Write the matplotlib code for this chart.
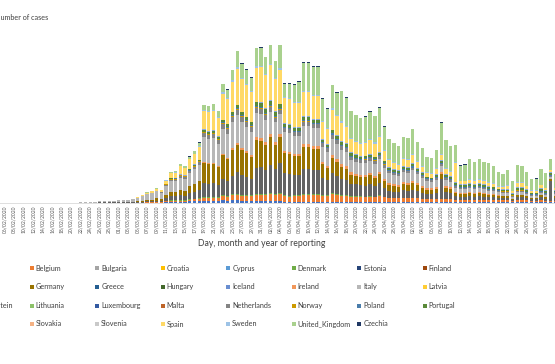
import matplotlib
matplotlib.use("Agg")
import matplotlib.pyplot as plt
import pandas as pd
from matplotlib.patches import Rectangle

plt.rcParams["font.family"] = ["Lato", "DejaVu Sans"]

# daily cases by reporting day, thousands (day 0 = 06/02/2020)
dates = pd.date_range("2020-02-06", periods=117).strftime("%d/%m/%Y")

italy = [0] * 16 + [0.02, 0.06, 0.07, 0.1,
    0.3, 0.2, 0.3, 0.38, 0.55, 0.45, 0.45, 0.7, 0.88, 1.25, 1.5, 1.75, 1.75, 1.5,
    2.25, 2.75, 2.75, 3, 3, 3.25, 3.75, 4,
    6.25, 6, 6.25, 5.5, 6.25, 6, 6.5, 7, 6.5, 6, 5.75, 6, 6, 5.5, 5.5, 5, 5,
    4.75, 4.75, 4.5, 4.5, 4.5, 4.5, 4.5, 4.5, 3.75, 3.5, 4, 3.75,
    3.5, 3.5, 3, 3, 3, 3, 3, 3, 3.25, 2.75, 2.5, 2.25, 2.25, 2.5, 2.5, 2.75, 2.25, 2, 1.75, 1.5,
    1.75, 1.5, 1.5, 1.25, 1, 1, 1, 1, 1, 1, 1, 0.75, 0.75, 0.75, 0.75, 0.75, 0.5, 0.75, 0.75, 0.5,
    0.5, 0.5, 0.5, 0.5, 0.5, 0.5]
spain = [0] * 20 + [
    0, 0, 0, 0, 0.03, 0.03, 0.03, 0.08, 0.15, 0.2, 0.38, 0.38, 0.63, 0.5,
    0.75, 1.25, 1.25, 2, 1.75, 2.5, 2.5, 3.25,
    4.5, 4.75, 4.75, 4.5, 6.5, 6.25, 7.5, 9, 8.25, 8, 7.5, 8.5, 8.75, 8.25, 8.75, 8, 8.5,
    6.25, 6.25, 6, 6, 6, 6, 5.75, 5.75, 4.25, 3.75, 5, 4.75,
    4.5, 4, 3.25, 3, 3, 3.25, 3.5, 3.25, 3.75, 2.5, 1.75, 1.5, 1.25, 1.75, 1.75, 2, 1.5, 1.25, 1, 1,
    1.25, 1.25, 1.25, 1, 4.75, 0.75, 0.75, 0.75, 0.75, 0.75, 0.75, 0.75, 0.75, 0.5, 0.5, 0.75, 0.5, 1, 1, 0.75,
    0.5, 0.5, 0.75, 0.5, 0.5, 0.5]
germany = [0] * 20 + [
    0.03, 0.03, 0.03, 0.05, 0.08, 0.05, 0.05, 0.1, 0.15, 0.2, 0.3, 0.35, 0.63, 0.5,
    0.75, 1, 1, 1.25, 1.25, 1.75, 2, 2.25,
    5, 5, 4.75, 4.5, 6, 5.5, 6.5, 6.75, 6.25, 6, 5.5, 7, 6.5, 6.25, 7, 6, 6.5,
    5, 5, 4.75, 4.75, 5.5, 5.5, 5.25, 5.25, 3.5, 3, 3.75, 3.5,
    3, 2.75, 2.25, 2, 2, 2.25, 2.25, 2, 2.25, 1.75, 1.5, 1.5, 1.25, 1.5, 1.5, 1.75, 1.5, 1.25, 1, 1,
    1, 1.25, 1, 1, 0.75, 0.75, 0.75, 0.75, 0.75, 0.75, 0.75, 0.5, 0.5, 0.5, 0.5, 0.5, 0.25, 0.5, 0.5, 0.5,
    0.25, 0.25, 0.5, 0.5, 0.5, 0.5]
france = [0] * 20 + [
    0.03, 0.03, 0.03, 0.05, 0.05, 0.05, 0.05, 0.08, 0.13, 0.15, 0.25, 0.3, 0.38, 0.38,
    0.75, 1, 1, 1.25, 1, 1.5, 1.75, 2,
    3.5, 3.25, 3.5, 3, 4, 3.75, 4.5, 5.5, 5, 4.5, 4, 6.5, 6.75, 6, 7, 6.25, 7.5,
    5.5, 5.5, 5, 5, 6.25, 6.25, 6, 6, 4.25, 3.75, 5, 4.5,
    4, 3.75, 3, 3, 2.75, 2.75, 3, 2.75, 3, 2.25, 1.75, 1.5, 1.5, 2, 1.75, 2, 1.75, 1.5, 1.25, 1.25,
    1.5, 5, 1.75, 1.5, 1, 0.75, 0.75, 1, 0.75, 1, 0.75, 0.75, 0.75, 0.5, 0.5, 0.5, 0.25, 0.75, 0.75, 0.5,
    0.5, 0.5, 0.75, 0.5, 5, 0.75]
uk = [0] * 20 + [
    0, 0, 0, 0, 0, 0, 0, 0, 0, 0.03, 0.03, 0.05, 0.05, 0.08,
    0.13, 0.25, 0.25, 0.38, 0.38, 0.5, 0.63, 0.75,
    1.25, 1.25, 1.5, 1.5, 2, 2, 2.5, 4, 3.5, 3.5, 3.25, 4.5, 4.5, 4.25, 4.75, 4.25, 5.75,
    3.25, 3.5, 4.25, 5, 7, 7, 7, 7, 5.5, 4.75, 5.75, 5.5,
    7.5, 7, 6.75, 6.5, 6.25, 6.25, 6.75, 6.5, 7, 5.75, 5, 4.75, 4.5, 5.25, 5.25, 6.25, 4.75, 4.5, 3.75, 3.75,
    4.5, 7.75, 7, 6.25, 4.25, 3.75, 4, 5, 4.5, 5, 4.5, 4.75, 4.25, 3.5, 3, 3.75, 2.4, 4.25, 4, 3.4,
    2.7, 2.9, 3.9, 3.65, 2.65, 3.4]
belgium = [0] * 30 + [
    0.03, 0.03, 0.05, 0.05,
    0.13, 0.18, 0.18, 0.25, 0.25, 0.25, 0.38, 0.5,
    0.75, 0.75, 0.75, 0.75, 1, 1, 1.25, 1.25, 1.25, 1.25, 1.25, 1.5, 1.5, 1.5, 1.75, 1.5, 1.75,
    1.5, 1.25, 1.5, 1.5, 1.75, 1.75, 1.75, 1.75, 1.5, 1.5, 2, 1.75,
    1.5, 1.5, 1.25, 1.25, 1.25, 1.25, 1.25, 1.25, 1.5, 1.25, 1, 1, 1, 1, 1, 1, 1, 0.75, 0.75, 0.75,
    0.75, 0.75, 0.75, 0.75, 0.5, 0.5, 0.5, 0.5, 0.5, 0.5, 0.5, 0.5, 0.5, 0.5, 0.5, 0.5, 0.25, 0.5, 0.5, 0.5,
    0.25, 0.25, 0.5, 0.25, 0.25, 0.25]
netherlands = [0] * 30 + [
    0.03, 0.05, 0.05, 0.08,
    0.25, 0.38, 0.38, 0.5, 0.5, 0.5, 0.63, 0.75,
    1, 1, 1, 1, 1.25, 1.25, 1.25, 1.25, 1.25, 1.25, 1.25, 1.25, 1.25, 1.25, 1.25, 1, 1,
    1, 1, 1, 1, 1, 1, 1, 1, 1, 1, 1, 1,
    1, 1, 0.75, 0.75, 0.75, 0.75, 0.75, 0.75, 0.75, 0.75, 0.5, 0.5, 0.5, 0.5, 0.5, 0.5, 0.5, 0.5, 0.5, 0.5,
    0.5, 0.5, 0.5, 0.5, 0.5, 0.25, 0.25, 0.25, 0.25, 0.25, 0.25, 0.25, 0.25, 0.25, 0.25, 0.25, 0.25, 0.25,
    0.25, 0.25, 0.25, 0.25, 0.25, 0.25, 0.25, 0.25]
austria = [0] * 34 + [
    0.13, 0.25, 0.25, 0.25, 0.25, 0.38, 0.38, 0.5,
    0.5, 0.5, 0.5, 0.5, 0.75, 0.5, 0.75, 0.75, 0.5, 0.5, 0.5, 0.5, 0.5, 0.5, 0.5, 0.5, 0.5,
    0.25, 0.25, 0.25, 0.25, 0.25, 0.25, 0.25, 0.25, 0.25, 0.25, 0.25, 0.25,
    0.25, 0.25, 0.25, 0.25, 0.25, 0.13, 0.13, 0.13, 0.13, 0.13, 0.08, 0.08, 0.08, 0.08, 0.08, 0.08, 0.08, 0.08,
    0.08, 0.08, 0.08, 0.08, 0.08, 0.08, 0.05, 0.05, 0.05, 0.05, 0.05, 0.05, 0.05, 0.05, 0.05, 0.05, 0.05, 0.05,
    0.05, 0.05, 0.05, 0.05, 0.05, 0.05, 0.05, 0.05, 0.05, 0.05]
portugal = [0] * 34 + [
    0.05, 0.08, 0.08, 0.13, 0.13, 0.25, 0.25, 0.25,
    0.5, 0.5, 0.5, 0.5, 0.5, 0.75, 0.75, 0.75, 0.75, 0.75, 0.75, 1, 1, 1, 1, 1, 1,
    0.75, 0.75, 0.75, 0.75, 0.75, 0.75, 0.75, 0.75, 0.5, 0.5, 0.75, 0.75,
    0.75, 0.75, 0.75, 0.75, 0.5, 0.5, 0.5, 0.5, 0.5, 0.5, 0.5, 0.5, 0.5, 0.5, 0.5, 0.5, 0.5, 0.5, 0.25, 0.25,
    0.5, 0.5, 0.5, 0.5, 0.5, 0.5, 0.5, 0.5, 0.5, 0.5, 0.5, 0.5, 0.5, 0.25, 0.25, 0.25, 0.25, 0.5, 0.5, 0.5,
    0.25, 0.25, 0.5, 0.5, 0.5, 0.25]
ireland = [0] * 42 + [
    0.25, 0.25, 0.25, 0.25, 0.25, 0.25, 0.5, 0.5, 0.5, 0.5, 0.5, 0.75, 0.75, 0.75, 0.75, 0.75, 0.75,
    0.5, 0.5, 0.5, 0.5, 0.75, 0.75, 0.75, 0.75, 0.5, 0.5, 0.75, 0.75,
    0.75, 0.75, 0.75, 0.5, 0.5, 0.5, 0.5, 0.5, 0.5, 0.5, 0.5, 0.5, 0.5, 0.5, 0.5, 0.5, 0.5, 0.38, 0.38, 0.38,
    0.38, 0.38, 0.38, 0.38, 0.25, 0.25, 0.25, 0.25, 0.25, 0.25, 0.25, 0.25, 0.25, 0.25, 0.13, 0.13, 0.13, 0.13,
    0.13, 0.05, 0.05, 0.05, 0.05, 0.05, 0.05, 0.05]
sweden = [0] * 34 + [
    0.1, 0.15, 0.15, 0.15, 0.2, 0.15, 0.15, 0.2,
    0.25, 0.2, 0.25, 0.2, 0.3, 0.25, 0.3, 0.3, 0.25, 0.25, 0.25, 0.3, 0.3, 0.25, 0.3, 0.25, 0.3,
    0.3, 0.3, 0.25, 0.3, 0.35, 0.35, 0.3, 0.3, 0.25, 0.25, 0.3, 0.3,
    0.3, 0.3, 0.25, 0.25, 0.25, 0.25, 0.3, 0.3, 0.3, 0.25, 0.25, 0.25, 0.25, 0.25, 0.25, 0.3, 0.25, 0.25,
    0.2, 0.2, 0.25, 0.3, 0.3, 0.25, 0.2, 0.2, 0.2, 0.25, 0.25, 0.25, 0.25, 0.25, 0.2, 0.2, 0.2, 0.2,
    0.15, 0.25, 0.25, 0.2, 0.15, 0.15, 0.2, 0.2, 0.2, 0.2]
poland = [0] * 34 + [
    0.03, 0.03, 0.05, 0.05, 0.05, 0.05, 0.08, 0.08,
    0.1, 0.1, 0.1, 0.1, 0.15, 0.15, 0.2, 0.2, 0.2, 0.2, 0.2, 0.2, 0.25, 0.25, 0.25, 0.25, 0.25,
    0.25, 0.25, 0.25, 0.25, 0.3, 0.3, 0.25, 0.25, 0.25, 0.25, 0.3, 0.25,
    0.3, 0.3, 0.25, 0.25, 0.25, 0.25, 0.3, 0.25, 0.3, 0.25, 0.25, 0.25, 0.25, 0.25, 0.25, 0.3, 0.25, 0.25,
    0.2, 0.2, 0.25, 0.3, 0.25, 0.25, 0.25, 0.2, 0.2, 0.25, 0.25, 0.25, 0.25, 0.25, 0.2, 0.2, 0.2, 0.2,
    0.15, 0.2, 0.2, 0.2, 0.15, 0.15, 0.2, 0.2, 0.2, 0.2]
romania = [0] * 34 + [
    0.03, 0.03, 0.03, 0.05, 0.05, 0.05, 0.05, 0.05,
    0.1, 0.1, 0.1, 0.13, 0.13, 0.15, 0.15, 0.15, 0.15, 0.15, 0.15, 0.2, 0.2, 0.2, 0.2, 0.2, 0.2,
    0.2, 0.2, 0.2, 0.2, 0.25, 0.25, 0.2, 0.2, 0.2, 0.2, 0.2, 0.2,
    0.25, 0.2, 0.2, 0.2, 0.2, 0.2, 0.25, 0.2, 0.25, 0.2, 0.2, 0.2, 0.2, 0.2, 0.2, 0.25, 0.2, 0.2,
    0.2, 0.2, 0.2, 0.25, 0.2, 0.2, 0.2, 0.15, 0.15, 0.2, 0.2, 0.2, 0.2, 0.2, 0.15, 0.15, 0.15, 0.15,
    0.1, 0.15, 0.15, 0.15, 0.1, 0.1, 0.15, 0.15, 0.15, 0.15]
czechia = [0] * 34 + [
    0.05, 0.05, 0.08, 0.08, 0.08, 0.08, 0.1, 0.1,
    0.1, 0.15, 0.15, 0.15, 0.15, 0.15, 0.15, 0.2, 0.15, 0.15, 0.15, 0.15, 0.2, 0.15, 0.15, 0.15, 0.2,
    0.1, 0.1, 0.1, 0.1, 0.1, 0.1, 0.1, 0.1, 0.08, 0.08, 0.1, 0.1,
    0.08, 0.08, 0.08, 0.05, 0.05, 0.05, 0.08, 0.05, 0.08, 0.05, 0.05, 0.05, 0.05, 0.05, 0.05, 0.08, 0.05, 0.05,
    0.05, 0.05, 0.05, 0.08, 0.05, 0.05, 0.05, 0.05, 0.05, 0.05, 0.05, 0.05, 0.05, 0.05, 0.05, 0.05, 0.05, 0.05,
    0.05, 0.05, 0.05, 0.05, 0.05, 0.05, 0.05, 0.05, 0.05, 0.05]
norway = [0] * 34 + [
    0.2, 0.2, 0.25, 0.2, 0.2, 0.2, 0.15, 0.2,
    0.25, 0.25, 0.25, 0.2, 0.25, 0.25, 0.25, 0.25, 0.25, 0.2, 0.2, 0.2, 0.2, 0.2, 0.2, 0.2, 0.15,
    0.1, 0.1, 0.1, 0.1, 0.1, 0.1, 0.1, 0.1, 0.08, 0.08, 0.1, 0.08,
    0.05, 0.05, 0.05, 0.05, 0.05, 0.05, 0.05, 0.05, 0.05, 0.05, 0.03, 0.03, 0.03, 0.03, 0.03, 0.03, 0.03, 0.03,
    0.03, 0.03, 0.03, 0.03, 0.03, 0.03, 0.03, 0.03, 0.03, 0.03, 0.03, 0.03, 0.03, 0.03, 0.03, 0.03, 0.03, 0.03,
    0.03, 0.03, 0.03, 0.03, 0.03, 0.03, 0.03, 0.03, 0.03, 0.03]
denmark = [0] * 34 + [
    0.1, 0.15, 0.15, 0.1, 0.1, 0.15, 0.1, 0.15,
    0.15, 0.15, 0.15, 0.15, 0.2, 0.15, 0.15, 0.15, 0.15, 0.15, 0.15, 0.15, 0.15, 0.2, 0.15, 0.15, 0.15,
    0.15, 0.15, 0.15, 0.15, 0.2, 0.2, 0.15, 0.15, 0.15, 0.15, 0.15, 0.15,
    0.15, 0.15, 0.1, 0.1, 0.1, 0.1, 0.15, 0.1, 0.15, 0.1, 0.1, 0.1, 0.1, 0.1, 0.1, 0.1, 0.1, 0.1,
    0.08, 0.08, 0.1, 0.1, 0.1, 0.1, 0.08, 0.08, 0.08, 0.08, 0.08, 0.08, 0.08, 0.08, 0.05, 0.05, 0.05, 0.05,
    0.05, 0.05, 0.05, 0.05, 0.05, 0.05, 0.05, 0.05, 0.05, 0.05]

countries = ["Austria", "Belgium", "Bulgaria", "Croatia", "Cyprus", "Denmark", "Estonia", "Finland",
             "France", "Germany", "Greece", "Hungary", "Iceland", "Ireland", "Italy", "Latvia",
             "Liechtenstein", "Lithuania", "Luxembourg", "Malta", "Netherlands", "Norway", "Poland", "Portugal",
             "Romania", "Slovakia", "Slovenia", "Spain", "Sweden", "United_Kingdom", "Czechia"]
colors = ["#4472C4", "#ED7D31", "#A5A5A5", "#FFC000", "#5B9BD5", "#70AD47", "#264478", "#9E480E",
          "#636363", "#997300", "#255E91", "#43682B", "#698ED0", "#F1975A", "#B7B7B7", "#FFCD33",
          "#7CAFDD", "#8CC168", "#335AA1", "#BE6428", "#848484", "#CC9A00", "#497CAA", "#5A8A39",
          "#8FAADC", "#F4B183", "#C9C9C9", "#FFD966", "#9DC3E6", "#A9D18E", "#203864"]
series = {"Austria": austria, "Belgium": belgium, "Denmark": denmark, "France": france,
          "Germany": germany, "Ireland": ireland, "Italy": italy, "Netherlands": netherlands,
          "Norway": norway, "Poland": poland, "Portugal": portugal, "Romania": romania,
          "Spain": spain, "Sweden": sweden, "United_Kingdom": uk, "Czechia": czechia}

fig = plt.figure(figsize=(5.55, 3.64), dpi=100)
ax = fig.add_axes([-30.8 / 555, 161.5 / 364, 593.1 / 555, 180 / 364])
x = list(range(len(dates)))
bottom = [0.0] * len(dates)
for name, col in zip(countries, colors):
    vals = series.get(name)
    if vals is None:
        continue
    ax.bar(x, vals, width=0.7, bottom=bottom, color=col, linewidth=0)
    bottom = [b + v for b, v in zip(bottom, vals)]

ax.set_xlim(-7.5, 117.5)
ax.set_ylim(0, 45)
# the last labelled day is 30/05, the picture ends before the next one
ax.set_xticks(x[:115:2])
ax.set_xticklabels(dates[:115:2], rotation=90, fontsize=3.6, color="#595959")
ax.tick_params(axis="x", length=0, pad=2)
ax.set_yticks([])
for s in ["top", "right", "left"]:
    ax.spines[s].set_visible(False)
ax.spines["bottom"].set_color("#D9D9D9")
ax.spines["bottom"].set_linewidth(0.6)

fig.text(-5 / 555, 1 - 18 / 364, "Number of cases", fontsize=5.2, color="#404040", va="center")
fig.text(262 / 555, 1 - 243 / 364, "Day, month and year of reporting", fontsize=6.2,
         color="#404040", ha="center", va="center")

# legend, 8 columns
for i, (name, col) in enumerate(zip(countries, colors)):
    cx = -33.8 + 65.5 * (i % 8)
    cy = [268.3, 286.7, 305.7, 324][i // 8]
    fig.add_artist(Rectangle(((cx - 2) / 555, 1 - (cy + 2) / 364), 4 / 555, 4 / 364,
                             transform=fig.transFigure, color=col, lw=0))
    fig.text((cx + 4) / 555, 1 - cy / 364, name, fontsize=5.2, color="#404040", va="center")

fig.savefig("out.png", dpi=100)
